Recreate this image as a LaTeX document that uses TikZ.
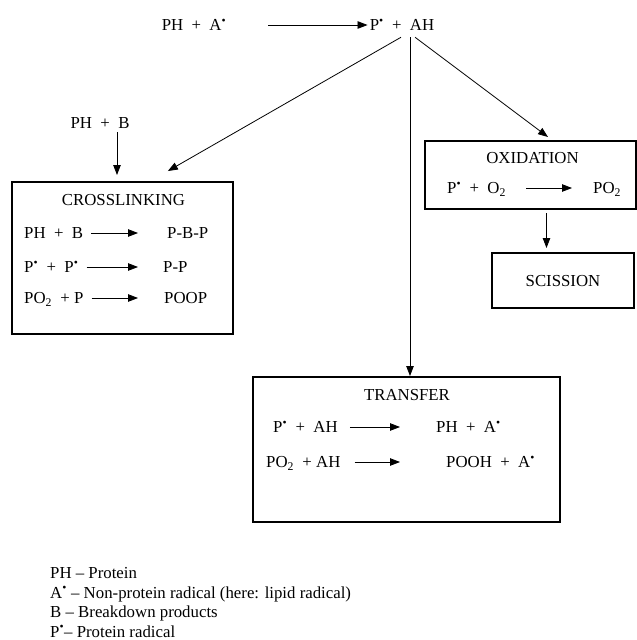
\documentclass[tikz,border=0pt]{standalone}
\usepackage{fontspec}
\setmainfont{Liberation Serif}
\usetikzlibrary{arrows.meta,positioning}

\newcommand{\rad}{\textsuperscript{•}}

\tikzstyle{process} = [rectangle, draw=black, line width=2pt, inner sep=0pt, text height=11.1pt, text depth=0pt]
\tikzstyle{txt} = [inner sep=0pt, text height=11.1pt, text depth=0pt]
\tikzstyle{arrow} = [line width=0.8pt, -{Triangle[length=10pt,width=7.5pt]}]

\begin{document}
\begin{tikzpicture}[x=1pt, y=-1pt, font=\fontsize{16.8}{19.5}\selectfont]
	\useasboundingbox (0,0) rectangle (637,640);
	% Place nodes
	\node [txt] (PHA) at (194,25) {PH~ + ~A\rad};
	\node [txt, inner ysep=6.5pt] (PAH) at (402,25) {P\rad~ + ~AH};
	\node [txt] (PHB) at (100,123) {PH~ + ~B};
	\node [process, minimum width=221pt, minimum height=152pt] (cross) at (122.5,258) {};
	\node [process, minimum width=211pt, minimum height=68pt] (oxid) at (530,175) {};
	\node [process, minimum width=142pt, minimum height=55pt] (sciss) at (563,280.5) {SCISSION};
	\node [process, minimum width=307pt, minimum height=145pt] (trans) at (406.5,449.5) {};
	% Crosslinking
	\node [txt] (crossT) at (123.5,200) {CROSSLINKING};
	\node [txt, anchor=west] (c1l) at (24,233) {PH~ + ~B};
	\node [txt, anchor=west] (c1r) at (167,233) {P-B-P};
	\node [txt, anchor=west] (c2l) at (24,267) {P\rad~ + ~P\rad};
	\node [txt, anchor=west] (c2r) at (163,267) {P-P};
	\node [txt, anchor=west] (c3l) at (24,298) {PO\textsubscript{2}~ +~P};
	\node [txt, anchor=west] (c3r) at (164,298) {POOP};
	% Oxidation
	\node [txt] (oxidT) at (532.5,158) {OXIDATION};
	\node [txt, anchor=west] (o1l) at (447,188) {P\rad~ + ~O\textsubscript{2}};
	\node [txt, anchor=west] (o1r) at (593,188) {PO\textsubscript{2}};
	% Transfer
	\node [txt] (transT) at (407,395) {TRANSFER};
	\node [txt, anchor=west] (t1l) at (273,427) {P\rad~ + ~AH};
	\node [txt, anchor=west] (t1r) at (436,427) {PH~ + ~A\rad};
	\node [txt, anchor=west] (t2l) at (266,462) {PO\textsubscript{2}~ +~AH};
	\node [txt, anchor=west] (t2r) at (446,462) {POOH~ + ~A\rad};
	% Legend
	\node [txt, anchor=west] (leg1) at (50,573) {PH -- Protein};
	\node [txt, below=8pt of leg1.south west, anchor=north west] (leg2) {A\rad{} -- Non-protein radical (here: lipid radical)};
	\node [txt, below=8pt of leg2.south west, anchor=north west] (leg3) {B -- Breakdown products};
	\node [txt, below=8pt of leg3.south west, anchor=north west] (leg4) {P\rad-- Protein radical};
	% Helper points
	\coordinate (vtop) at ([xshift=8pt]PAH.south);
	\coordinate (phbs) at ([xshift=17pt,yshift=-3.5pt]PHB.south);
	\coordinate (oxs) at ([xshift=16.5pt]oxid.south);
	% Draw edges
	\draw [arrow] ([xshift=42pt]PHA.east) -- ([xshift=-2pt]PAH.west);
	\draw [arrow, shorten >=20pt] ([xshift=-1pt]PAH.south) -- ([xshift=28pt]cross.north);
	\draw [arrow] (vtop) -- (vtop |- trans.north);
	\draw [arrow, shorten >=5pt] ([xshift=13pt]PAH.south) -- ([xshift=22pt]oxid.north);
	\draw [arrow, shorten >=6pt] (phbs) -- (phbs |- cross.north);
	\draw [arrow, shorten <=3pt, shorten >=4pt] (oxs) -- (oxs |- sciss.north);
	\draw [arrow] ([xshift=8pt]c1l.east) -- ([xshift=-29pt]c1r.west);
	\draw [arrow] ([xshift=8pt]c2l.east) -- ([xshift=-25pt]c2r.west);
	\draw [arrow] ([xshift=8pt]c3l.east) -- ([xshift=-26pt]c3r.west);
	\draw [arrow] ([xshift=20pt]o1l.east) -- ([xshift=-21pt]o1r.west);
	\draw [arrow] ([xshift=12pt]t1l.east) -- ([xshift=-36pt]t1r.west);
	\draw [arrow] ([xshift=14pt]t2l.east) -- ([xshift=-46pt]t2r.west);
\end{tikzpicture}
\end{document}
